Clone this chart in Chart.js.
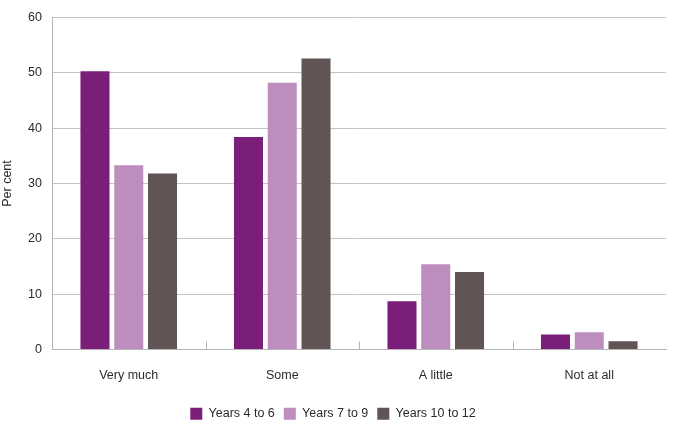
<!DOCTYPE html>
<html>
<head>
<meta charset="utf-8">
<script src="https://cdn.jsdelivr.net/npm/chart.js@4/dist/chart.umd.min.js"></script>
<style>
  html, body { margin: 0; padding: 0; background: #fff; }
  #wrap { width: 675px; height: 427px; }
</style>
</head>
<body>
<div id="wrap"><canvas id="barChart"></canvas></div>
<script>
const categories = ["Very much", "Some", "A little", "Not at all"];
const years4to6 = [50.3, 38.4, 8.7, 2.7];
const years7to9 = [33.3, 48.2, 15.4, 3.1];
const years10to12 = [31.8, 52.6, 14.0, 1.5];
const yTicks = [0, 10, 20, 30, 40, 50, 60];

const font = { family: "'Liberation Sans', Arial, sans-serif", size: 12.5 };

// small upward tick marks between the categories
const boundaryTicks = {
  id: "boundaryTicks",
  afterDatasetsDraw(chart) {
    const x = chart.scales.x;
    const ctx = chart.ctx;
    const bottom = chart.chartArea.bottom;
    ctx.save();
    ctx.strokeStyle = "#b5b5b5";
    ctx.lineWidth = 1;
    for (let i = 0; i < categories.length - 1; i++) {
      const px = Math.round((x.getPixelForValue(i) + x.getPixelForValue(i + 1)) / 2) + 0.5;
      ctx.beginPath();
      ctx.moveTo(px, bottom);
      ctx.lineTo(px, bottom - 8);
      ctx.stroke();
    }
    ctx.restore();
  },
};

const ctx = document.getElementById("barChart").getContext("2d");
const myChart = new Chart(ctx, {
  type: "bar",
  data: {
    labels: categories,
    datasets: [
      { label: "Years 4 to 6", data: years4to6, backgroundColor: "#7b1e7a" },
      { label: "Years 7 to 9", data: years7to9, backgroundColor: "#bd8dbd" },
      { label: "Years 10 to 12", data: years10to12, backgroundColor: "#605454" },
    ],
  },
  options: {
    responsive: true,
    maintainAspectRatio: false,
    animation: false,
    devicePixelRatio: 1,
    layout: { padding: { top: 16, right: 9, left: 0, bottom: -3 } },
    datasets: { bar: { categoryPercentage: 0.66, barPercentage: 0.86 } },
    plugins: {
      tooltip: { enabled: false },
      legend: {
        position: "bottom",
        labels: {
          font: font,
          color: "#2b2b2b",
          boxWidth: 12,
          boxHeight: 12,
          padding: 9,
        },
      },
    },
    scales: {
      x: {
        grid: { display: false },
        border: { color: "#b5b5b5" },
        ticks: { font: font, color: "#2b2b2b", padding: 11 },
        afterFit(scale) { scale.height = 49; },
      },
      y: {
        min: 0,
        max: 60,
        afterBuildTicks(scale) { scale.ticks = yTicks.map((v) => ({ value: v })); },
        grid: { color: "#c4c4c4", drawTicks: false },
        border: { color: "#b5b5b5" },
        ticks: { font: font, color: "#2b2b2b", padding: 10 },
        title: { display: true, text: "Per cent", font: font, color: "#2b2b2b", padding: 0 },
        afterFit(scale) { scale.width = 52; },
      },
    },
  },
  plugins: [boundaryTicks],
});
</script>
</body>
</html>
